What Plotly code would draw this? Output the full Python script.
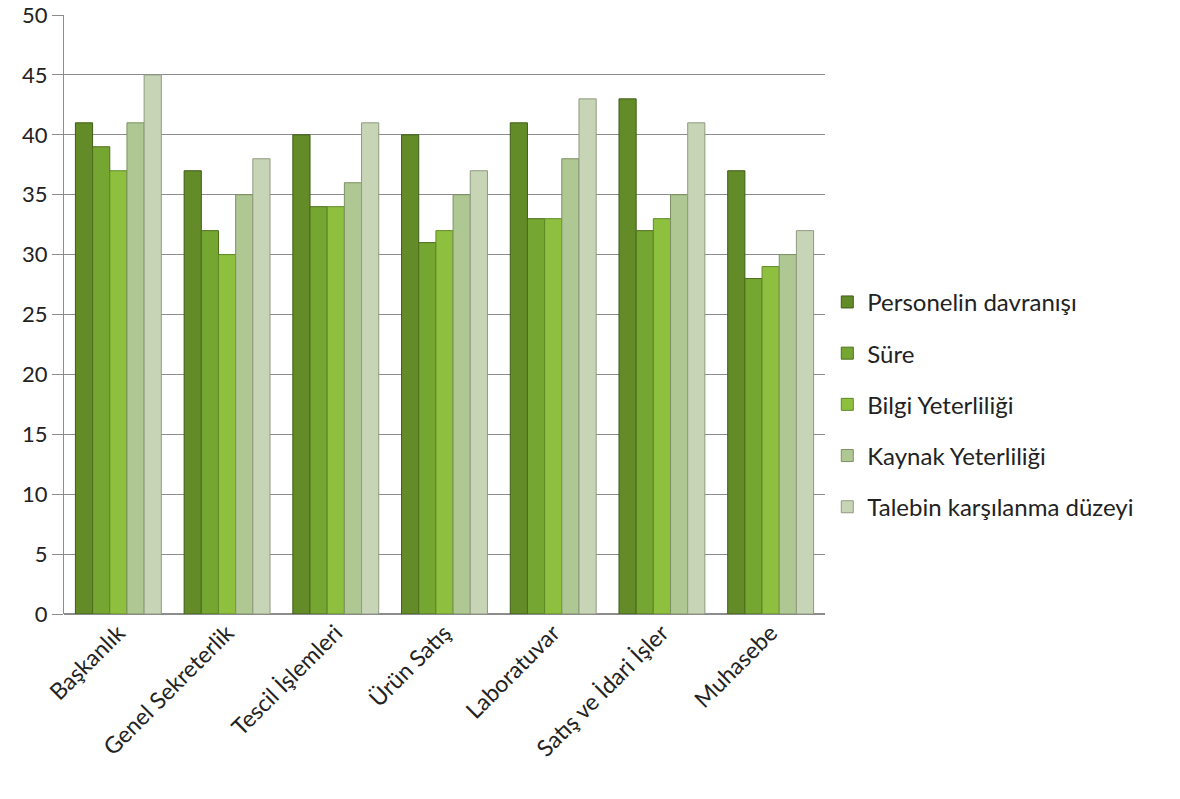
import plotly.graph_objects as go

categories = ["Başkanlık", "Genel Sekreterlik", "Tescil İşlemleri", "Ürün Satış",
              "Laboratuvar", "Satış ve İdari İşler", "Muhasebe"]
series_names = ["Personelin davranışı", "Süre", "Bilgi Yeterliliği",
                "Kaynak Yeterliliği", "Talebin karşılanma düzeyi"]
personel = [41, 37, 40, 40, 41, 43, 37]
sure = [39, 32, 34, 31, 33, 32, 28]
bilgi = [37, 30, 34, 32, 33, 33, 29]
kaynak = [41, 35, 36, 35, 38, 35, 30]
talep = [45, 38, 41, 37, 43, 41, 32]
y_ticks = [0, 5, 10, 15, 20, 25, 30, 35, 40, 45, 50]

series_values = [personel, sure, bilgi, kaynak, talep]
colors = ["#638c29", "#76a632", "#8fbf3f", "#aec793", "#c7d5b6"]
edges = ["#3f5c17", "#4c6d1c", "#5f8a26", "#7c9162", "#8f9a80"]

fig = go.Figure()
for i, (name, vals) in enumerate(zip(series_names, series_values)):
    fig.add_trace(go.Bar(
        x=categories, y=vals, name=name,
        legendgroup=name,
        marker=dict(color=colors[i], line=dict(color=edges[i], width=1)),
    ))

font_family = "Lato, 'Open Sans', sans-serif"
fig.update_layout(
    width=1180, height=799,
    margin=dict(l=64, r=355, t=15, b=185, autoexpand=False),
    paper_bgcolor="white", plot_bgcolor="white",
    barmode="group", bargap=0.21, bargroupgap=0,
    font=dict(family=font_family, size=22, color="#222222"),
    showlegend=True,
    legend=dict(x=1.003, xanchor="left", y=0.35, yanchor="middle",
                font=dict(size=24, color="#222222"),
                tracegroupgap=17, itemwidth=30),
    xaxis=dict(tickangle=-45, showline=False, ticks="", showgrid=False,
               automargin=False, tickfont=dict(size=23)),
    yaxis=dict(range=[0, 50], tickvals=y_ticks, showgrid=True, gridcolor="#8c8c8c",
               gridwidth=1, showline=True, linecolor="#8c8c8c", linewidth=1,
               ticks="outside", ticklen=11, tickcolor="#8c8c8c",
               zeroline=True, zerolinecolor="#8c8c8c", automargin=False,
               tickfont=dict(size=22)),
)
fig.write_html("out.html")
